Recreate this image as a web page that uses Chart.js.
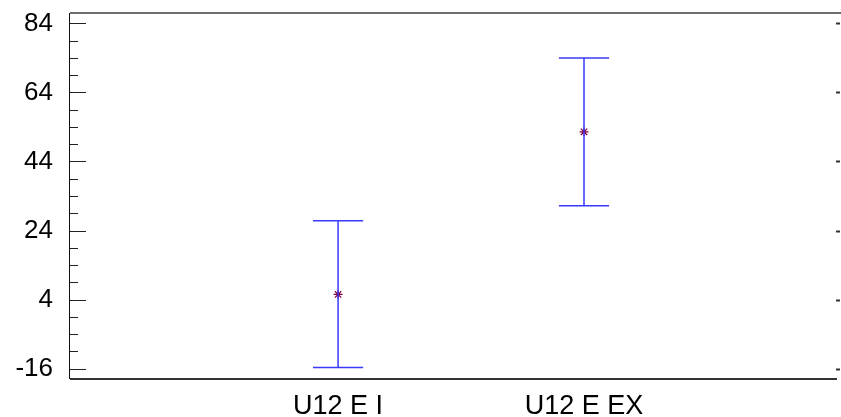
<!DOCTYPE html>
<html>
<head>
<meta charset="utf-8">
<script src="https://cdn.jsdelivr.net/npm/chart.js@4"></script>
<style>
  html, body { margin: 0; padding: 0; background: #ffffff; overflow: hidden; }
  #wrap { width: 841px; height: 417px; }
</style>
</head>
<body>
<div id="wrap"><canvas id="c" width="841" height="417"></canvas></div>
<script>
// Groups along the horizontal axis
const categories = ['U12 E I', 'U12 E EX'];
// Group means and their interval bounds
const means = [5.5, 52.6];
const lower = [-15.7, 31.2];
const upper = [26.8, 74.0];
// Labelled ticks on the value axis
const yTicks = [-16, 4, 24, 44, 64, 84];
const yMinorStep = 5;

const capHalf = 0.102;   // half cap width, in x units
const positions = categories.map((c, i) => i + 1);

// Vertical whiskers, one segment per group
const whiskerPts = [];
positions.forEach((x, i) => {
  whiskerPts.push({ x: x, y: lower[i] }, { x: x, y: upper[i] }, { x: x, y: null });
});
// Horizontal caps at both interval ends
const capPts = [];
positions.forEach((x, i) => {
  [lower[i], upper[i]].forEach(v => {
    capPts.push({ x: x - capHalf, y: v }, { x: x + capHalf, y: v }, { x: x, y: null });
  });
});
const meanPts = positions.map((x, i) => ({ x: x, y: means[i] }));

const FONT = { family: '"Liberation Sans", Arial, sans-serif', size: 26 };

// Frame lines plus inward tick marks
const framePlugin = {
  id: 'frame',
  afterDraw(chart) {
    const { ctx, chartArea: a } = chart;
    const y = chart.scales.y;
    ctx.save();
    // top border
    ctx.fillStyle = '#6e6e6e';
    ctx.fillRect(a.left, a.top - 1, a.right - a.left, 2);
    // bottom axis line
    ctx.fillStyle = '#333333';
    ctx.fillRect(a.left, a.bottom - 1, a.right - a.left - 4, 2);
    // left axis line
    ctx.fillStyle = '#111111';
    ctx.fillRect(a.left - 1, a.top, 1, a.bottom - a.top);
    // minor ticks
    ctx.fillStyle = '#222222';
    for (let v = yTicks[0] - 20; v <= yTicks[yTicks.length - 1] + 20; v += yMinorStep) {
      if (v < y.min || v > y.max) continue;
      const py = Math.round(y.getPixelForValue(v));
      const major = yTicks.includes(v);
      ctx.fillRect(a.left, py, major ? 16 : 8, 1);
      if (major) {
        ctx.fillStyle = '#333333';
        ctx.fillRect(a.right - 5, py - 0.5, 4, 2);
        ctx.fillStyle = '#222222';
      }
    }
    ctx.restore();
  }
};

new Chart(document.getElementById('c'), {
  type: 'scatter',
  data: {
    datasets: [
      {
        label: 'interval',
        data: whiskerPts,
        showLine: true,
        spanGaps: false,
        borderColor: '#3a3aff',
        borderWidth: 1.5,
        pointRadius: 0
      },
      {
        label: 'caps',
        data: capPts,
        showLine: true,
        spanGaps: false,
        borderColor: '#3a3aff',
        borderWidth: 1.5,
        pointRadius: 0
      },
      {
        label: 'mean',
        data: meanPts,
        showLine: false,
        pointStyle: 'star',
        pointRadius: 4.5,
        borderColor: '#800040',
        borderWidth: 1.2,
        backgroundColor: '#800040'
      }
    ]
  },
  options: {
    responsive: false,
    animation: false,
    layout: { autoPadding: false, padding: { top: 13, right: 0, left: 0, bottom: 0 } },
    plugins: { legend: { display: false }, tooltip: { enabled: false } },
    scales: {
      x: {
        type: 'linear',
        min: -0.09,
        max: 3.045,
        afterBuildTicks(scale) { scale.ticks = positions.map(v => ({ value: v })); },
        afterFit(scale) { scale.height = 38; scale.paddingLeft = 0; scale.paddingRight = 0; },
        grid: { display: false, drawTicks: false },
        border: { display: false },
        ticks: {
          padding: 11,
          maxRotation: 0,
          autoSkip: false,
          color: '#000000',
          font: { family: FONT.family, size: 27 },
          callback: (v) => categories[v - 1] || ''
        }
      },
      y: {
        type: 'linear',
        min: -19,
        max: 87,
        afterBuildTicks(scale) { scale.ticks = yTicks.map(v => ({ value: v })); },
        afterFit(scale) { scale.width = 70; scale.paddingTop = 0; scale.paddingBottom = 0; },
        grid: { display: false, drawTicks: false },
        border: { display: false },
        ticks: {
          padding: 17,
          color: '#000000',
          font: FONT,
          callback: (v) => String(v)
        }
      }
    }
  },
  plugins: [framePlugin]
});
</script>
</body>
</html>
